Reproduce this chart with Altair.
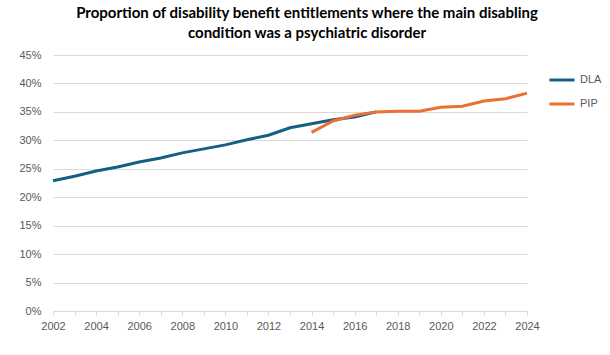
import altair as alt
import pandas as pd

dla_years = list(range(2002, 2018))
dla_values = [22.9, 23.7, 24.6, 25.3, 26.2, 26.9, 27.8, 28.5, 29.2, 30.1, 30.9, 32.2, 32.9, 33.6, 34.1, 35.0]
pip_years = list(range(2014, 2025))
pip_values = [31.4, 33.4, 34.4, 35.0, 35.1, 35.1, 35.8, 36.0, 36.9, 37.3, 38.3]

rows = [{"year": y, "value": v / 100, "series": "DLA"} for y, v in zip(dla_years, dla_values)]
rows += [{"year": y, "value": v / 100, "series": "PIP"} for y, v in zip(pip_years, pip_values)]
df = pd.DataFrame(rows)

font = "Liberation Sans"

chart = alt.Chart(df).mark_line(strokeWidth=3).encode(
    x=alt.X("year:Q",
            scale=alt.Scale(domain=[2002, 2024], nice=False, zero=False),
            axis=alt.Axis(title=None, values=list(range(2002, 2025)),
                          labelExpr="datum.value % 2 == 0 ? format(datum.value, 'd') : ''",
                          grid=False, domainColor="#d9d9d9", tickColor="#d9d9d9",
                          tickSize=4, labelPadding=5, labelFontSize=11, labelColor="#595959",
                          labelFont=font, labelOverlap=False, labelFlush=False, labelBound=False)),
    y=alt.Y("value:Q",
            scale=alt.Scale(domain=[0, 0.45], nice=False),
            axis=alt.Axis(title=None, values=[i * 0.05 for i in range(10)], format=".0%",
                          domain=False, ticks=False, labelPadding=12, gridColor="#d9d9d9",
                          labelFontSize=11, labelColor="#595959", labelFont=font)),
    color=alt.Color("series:N",
                    scale=alt.Scale(domain=["DLA", "PIP"], range=["#156082", "#E97132"]),
                    legend=alt.Legend(title=None, orient="none", legendX=495, legendY=11,
                                      symbolType="stroke", symbolSize=625, symbolStrokeWidth=3,
                                      labelFontSize=11, labelColor="#595959", labelFont=font,
                                      rowPadding=4, labelOffset=4)),
).properties(
    width=474, height=256,
    title=alt.TitleParams(
        ["Proportion of disability benefit entitlements where the main disabling",
         "condition was a psychiatric disorder"],
        font="Lato", fontSize=15, fontWeight="bold", color="#000000",
        anchor="middle", dx=17, offset=8, lineHeight=20),
    autosize="none",
    padding={"left": 53, "top": 55, "right": 83, "bottom": 44},
).configure_view(stroke=None)

chart.save("out.html", embed_options={"renderer": "svg", "actions": False})
